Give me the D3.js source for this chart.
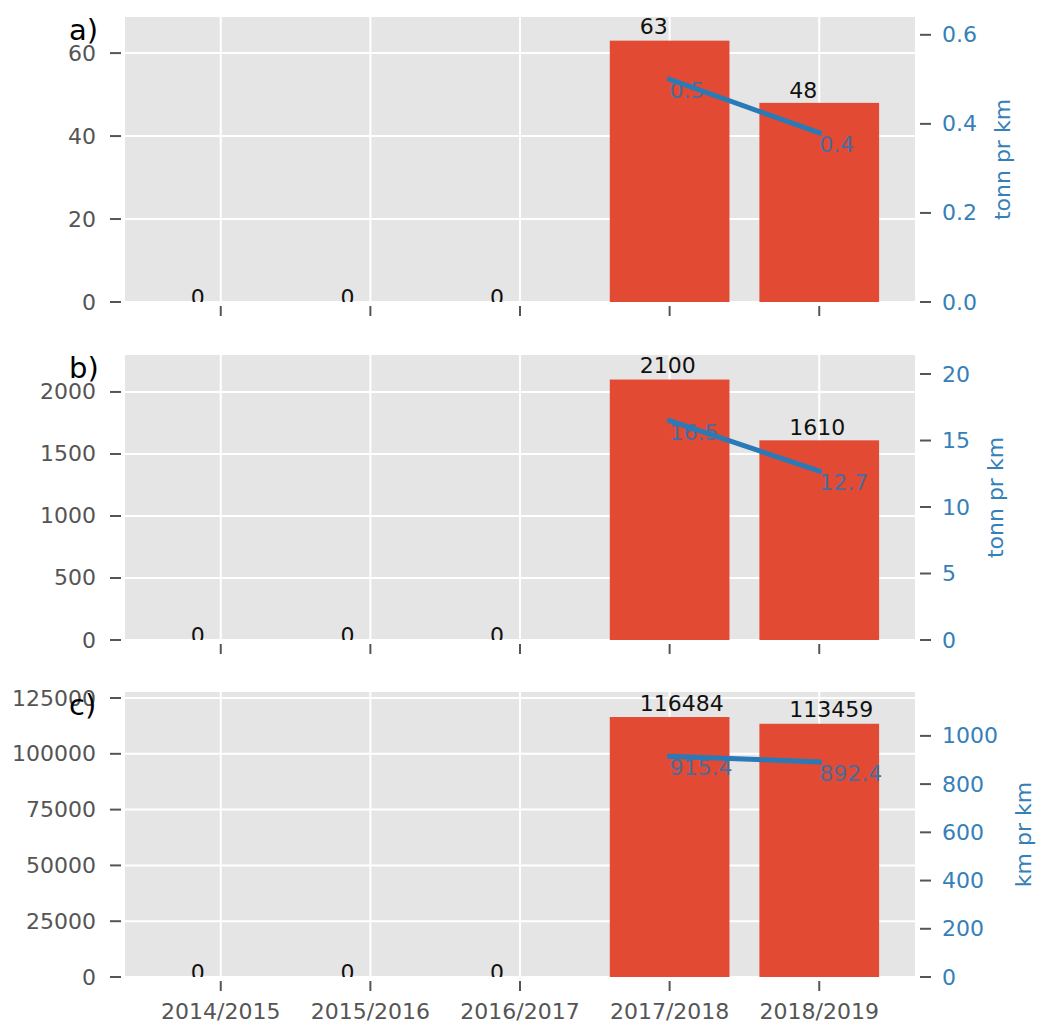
<!DOCTYPE html>
<html>
<head>
<meta charset="utf-8">
<script src="https://cdn.jsdelivr.net/npm/d3@7/dist/d3.min.js"></script>
<style>
  html, body { margin: 0; padding: 0; background: #ffffff; }
  svg { display: block; font-family: "DejaVu Sans", sans-serif; }
</style>
</head>
<body>
<svg id="chart" width="1037" height="1026"></svg>
<script>
// ---- data ----
const seasons = ["2014/2015", "2015/2016", "2016/2017", "2017/2018", "2018/2019"];
const panelLetters = ["a)", "b)", "c)"];

const barsA = [0, 0, 0, 63, 48];
const barsB = [0, 0, 0, 2100, 1610];
const barsC = [0, 0, 0, 116484, 113459];

const perKmA = [null, null, null, 0.5, 0.38];
const perKmB = [null, null, null, 16.5, 12.7];
const perKmC = [null, null, null, 915.4, 892.4];

const perKmLabelsA = ["0.5", "0.4"];
const perKmLabelsB = ["16.5", "12.7"];
const perKmLabelsC = ["915.4", "892.4"];

const leftTicksA = [0, 20, 40, 60];
const leftTicksB = [0, 500, 1000, 1500, 2000];
const leftTicksC = [0, 25000, 50000, 75000, 100000, 125000];

const rightTicksA = [0, 0.2, 0.4, 0.6];
const rightTicksB = [0, 5, 10, 15, 20];
const rightTicksC = [0, 200, 400, 600, 800, 1000];
const rightTickFmt = [d3.format(".1f"), d3.format("d"), d3.format("d")];

const leftMax = [68.7, 2298, 127700];
const rightMax = [0.64, 21.43, 1182];

const rightTitles = ["tonn pr km", "tonn pr km", "km pr km"];

const panels = [
  { bars: barsA, line: perKmA, lineLabels: perKmLabelsA, lt: leftTicksA, rt: rightTicksA },
  { bars: barsB, line: perKmB, lineLabels: perKmLabelsB, lt: leftTicksB, rt: rightTicksB },
  { bars: barsC, line: perKmC, lineLabels: perKmLabelsC, lt: leftTicksC, rt: rightTicksC }
];

// ---- styling / layout ----
const RED = "#E24A33", BG = "#E5E5E5", BLUE = "#2a7ab7", TICKBLUE = "#3580b8",
      GREY = "#555555", LABELBLUE = "#4a6c9c";
const FS = 22;
const left = 125, right = 915, panelH = 285;
const tops = [17, 355, 692];

const svg = d3.select("#chart");
const x = d3.scaleLinear().domain([-0.64, 4.64]).range([left, right]);

panels.forEach((p, k) => {
  const top = tops[k], bottom = top + panelH;
  const yL = d3.scaleLinear().domain([0, leftMax[k]]).range([bottom, top]);
  const yR = d3.scaleLinear().domain([0, rightMax[k]]).range([bottom, top]);
  const g = svg.append("g");

  const clipId = "clip" + k;
  svg.append("clipPath").attr("id", clipId).append("rect")
    .attr("x", left).attr("y", top).attr("width", right - left).attr("height", panelH);

  // background
  g.append("rect").attr("x", left).attr("y", top)
    .attr("width", right - left).attr("height", panelH).attr("fill", BG);

  // grid
  g.selectAll(".hg").data(p.lt).join("line")
    .attr("x1", left).attr("x2", right)
    .attr("y1", d => yL(d)).attr("y2", d => yL(d))
    .attr("stroke", "#ffffff").attr("stroke-width", 2);
  g.selectAll(".vg").data(seasons).join("line")
    .attr("x1", (d, i) => x(i)).attr("x2", (d, i) => x(i))
    .attr("y1", top).attr("y2", bottom)
    .attr("stroke", "#ffffff").attr("stroke-width", 2);

  // bars
  g.selectAll(".bar").data(p.bars).join("rect")
    .attr("x", (d, i) => x(i - 0.4))
    .attr("width", x(0.8) - x(0))
    .attr("y", d => yL(d))
    .attr("height", d => bottom - yL(d))
    .attr("fill", RED);

  // bar value labels
  g.append("g").attr("clip-path", `url(#${clipId})`)
    .selectAll("text").data(p.bars).join("text")
    .attr("x", (d, i) => x(i - 0.2))
    .attr("y", d => yL(d * 1.025) + (d === 0 ? 3 : 0))
    .attr("font-size", FS).attr("fill", "#111111")
    .text(d => d3.format("d")(d));

  // line value labels (under the line)
  const pts = p.line.map((v, i) => ({ v, i })).filter(d => d.v !== null);
  g.selectAll(".ll").data(pts).join("text")
    .attr("x", d => x(d.i))
    .attr("y", d => yR(d.v) + 19)
    .attr("font-size", FS).attr("fill", LABELBLUE)
    .text((d, j) => p.lineLabels[j]);

  // line
  g.append("path").datum(pts)
    .attr("d", d3.line().x(d => x(d.i)).y(d => yR(d.v)))
    .attr("fill", "none").attr("stroke", BLUE)
    .attr("stroke-width", 5).attr("stroke-linecap", "square");

  // left ticks
  g.selectAll(".ltk").data(p.lt).join("line")
    .attr("x1", 110).attr("x2", 121)
    .attr("y1", d => yL(d)).attr("y2", d => yL(d))
    .attr("stroke", GREY).attr("stroke-width", 2);
  g.selectAll(".ltl").data(p.lt).join("text")
    .attr("x", 96).attr("y", d => yL(d))
    .attr("text-anchor", "end").attr("dominant-baseline", "central")
    .attr("font-size", FS).attr("fill", GREY)
    .text(d => d3.format("d")(d));

  // right ticks
  g.selectAll(".rtk").data(p.rt).join("line")
    .attr("x1", 920).attr("x2", 931)
    .attr("y1", d => yR(d)).attr("y2", d => yR(d))
    .attr("stroke", GREY).attr("stroke-width", 2);
  const rtl = g.selectAll(".rtl").data(p.rt).join("text")
    .attr("x", 942).attr("y", d => yR(d))
    .attr("dominant-baseline", "central")
    .attr("font-size", FS).attr("fill", TICKBLUE)
    .text(d => rightTickFmt[k](d));
  let maxW = 0;
  rtl.each(function () { maxW = Math.max(maxW, this.getComputedTextLength()); });

  // right axis title
  const tx = 942 + maxW + 33, ty = (top + bottom) / 2;
  g.append("text")
    .attr("transform", `translate(${tx},${ty}) rotate(-90)`)
    .attr("text-anchor", "middle")
    .attr("font-size", FS).attr("fill", TICKBLUE)
    .text(rightTitles[k]);

  // x ticks
  g.selectAll(".xtk").data(seasons).join("line")
    .attr("x1", (d, i) => x(i)).attr("x2", (d, i) => x(i))
    .attr("y1", bottom + 4).attr("y2", bottom + 14)
    .attr("stroke", GREY).attr("stroke-width", 2);
  if (k === 2) {
    g.selectAll(".xtl").data(seasons).join("text")
      .attr("x", (d, i) => x(i)).attr("y", bottom + 42)
      .attr("text-anchor", "middle")
      .attr("font-size", FS).attr("fill", GREY)
      .text(d => d);
  }

  // panel letter
  g.append("text").attr("x", 69).attr("y", top + 23)
    .attr("font-size", 29).attr("fill", "#000000")
    .text(panelLetters[k]);
});
</script>
</body>
</html>
